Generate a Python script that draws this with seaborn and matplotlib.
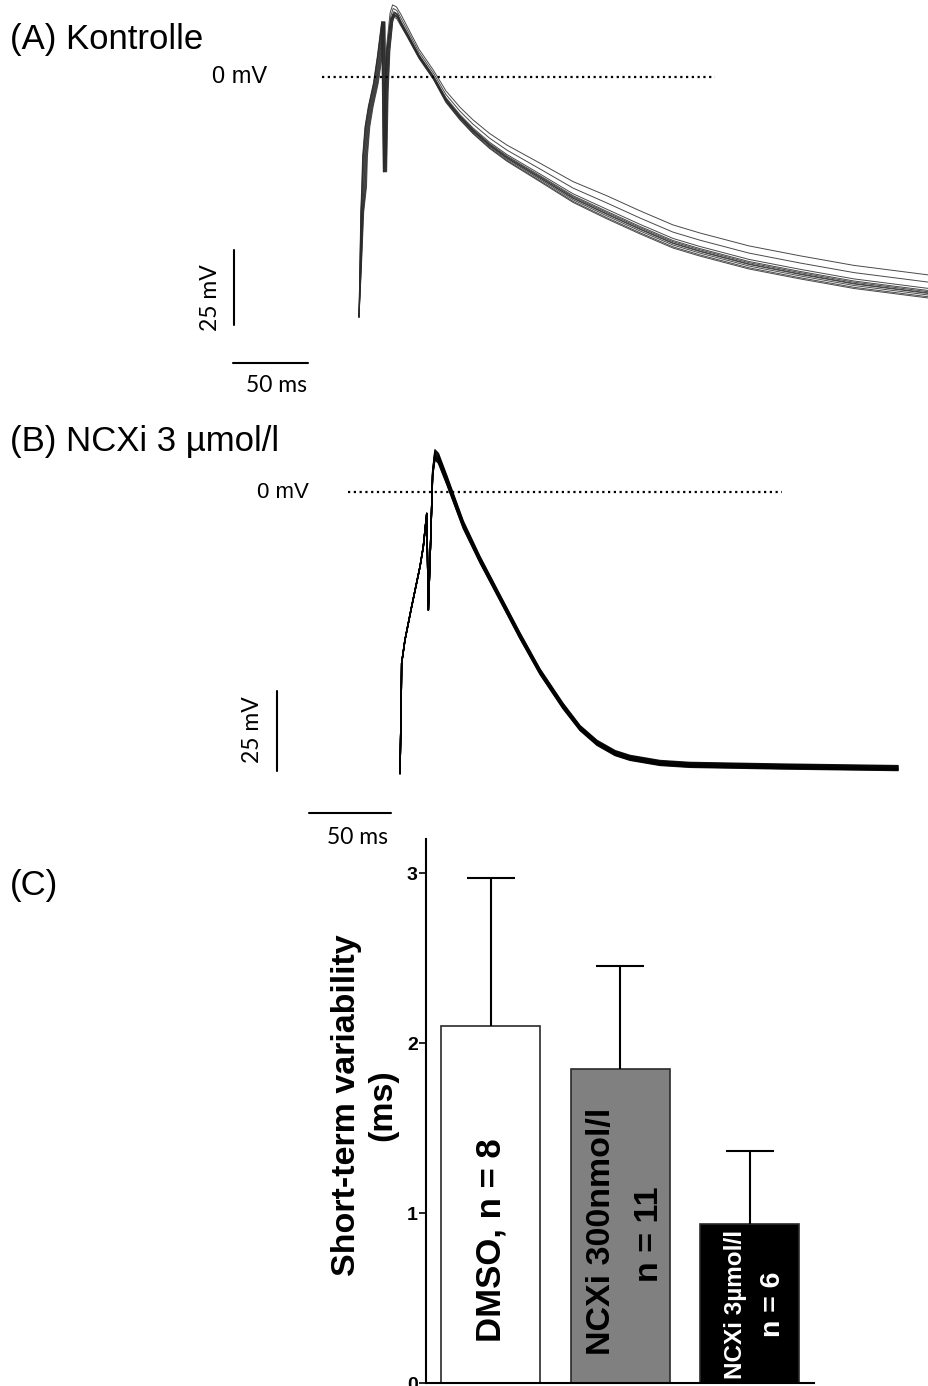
import numpy as np
import pandas as pd
import matplotlib
matplotlib.use("Agg")
import matplotlib.pyplot as plt
import seaborn as sns

W, H = 929, 1386

# ---------------- action potentials, control (ms, mV) ----------------
ctrl_t = [0, 0.5, 1.2, 1.8, 2.4, 4, 6.2, 9.6, 12.2, 15.1, 16.2, 17.2, 18.4, 20.7,
          22.4, 25, 28, 31.8, 40, 49.6, 58, 67.3, 76, 87, 98.7, 120.7, 142.7,
          165.3, 187.3, 209.3, 227.3, 260, 294, 330, 380]
ctrl_v = [-80, -65, -45, -36.6, -26.6, -16.6, -9.9, -2.1, 6.8, 18.4, -31.6, -5, 9, 19,
          21.2, 20.5, 18, 14.6, 7, 0, -7.5, -13.2, -17.7, -22.5, -26.7, -33.3, -40,
          -45.3, -50.3, -55, -57.7, -62, -65.3, -68.5, -71.7]
# share of each beat's voltage / timing offset that applies at every sample
ctrl_vw = [0, 0, 0, 0, 0, 0, 0, 0, 0, 0, 0, 0, 0.2, 0.4,
           0.5, 0.5, 0.5, 0.45, 0.4, 0.4, 0.5, 0.55, 0.6, 0.65, 0.7, 0.8, 0.9,
           1, 1, 1, 1, 1, 1, 1, 1]
ctrl_tw = [0, 0.3, 0.6, 1, 1, 1, 1, 1, 1, 0.7, 0.7, 0.7, 0.7, 0.6,
           0.5, 0.3, 0, 0, 0, 0, 0, 0, 0, 0, 0, 0, 0,
           0, 0, 0, 0, 0, 0, 0, 0]
ctrl_beat_dv = [5.7, 3.3, 1.2, 0.5, 0.1, -0.3, -0.5, -1.0, -1.6, -2.0]
ctrl_beat_dt = [0.0, 0.8, 1.6, 2.4, 3.2, 0.4, 1.2, 2.0, 2.8, 0.2]

# ---------------- action potentials, NCXi 3 umol/l ----------------
ncx_t = [0, 0.6, 1, 3, 7.1, 12.2, 14.2, 16.3, 17.3, 18.7, 19.9, 21.3, 23.4, 28.5,
         38.6, 48.8, 61, 73.2, 85.4, 99.4, 109.8, 120.1, 131.1, 140.2, 158.5,
         176.8, 231.7, 303.7]
ncx_v = [-88, -70, -53.5, -46.3, -35.8, -23.3, -17.1, -6.7, -36.9, -15, 5.8, 11.6,
         10.5, 3.75, -10.3, -21.2, -33.1, -45, -56.2, -66.9, -73.8, -78.4, -81.6,
         -83.1, -84.7, -85.3, -85.8, -86.3]
ncx_vw = [0, 0, 0, 0, 0, 0, 0, 0, 0, 0, 0.5, 1, 1, 0.9,
          0.75, 0.65, 0.6, 0.6, 0.55, 0.55, 0.5, 0.5, 0.5, 0.5, 0.5,
          0.5, 0.5, 0.5]
ncx_tw = [0] * len(ncx_t)
ncx_beat_dv = [1.6, 1.2, 0.8, 0.4, 0.0, -0.3, -0.6, -0.9, -1.2, -1.5]
ncx_beat_dt = [0.0] * 10

# ---------------- short-term variability ----------------
groups = ["DMSO", "NCXi 300nmol/l", "NCXi 3µmol/l"]
stv_mean = [2.10, 1.85, 0.935]
stv_sem = [0.87, 0.605, 0.43]
bar_colors = ["white", "#808080", "black"]
stv_ticks = [0, 1, 2, 3]


def beats(t, v, vw, tw, dv, dt):
    frames = []
    for k, (a, b) in enumerate(zip(dv, dt)):
        frames.append(pd.DataFrame({
            "t": np.asarray(t) + b * np.asarray(tw),
            "v": np.asarray(v) + a * np.asarray(vw),
            "beat": k,
        }))
    return pd.concat(frames, ignore_index=True)


def box(x0, y0, x1, y1):
    return [x0 / W, 1 - y1 / H, (x1 - x0) / W, (y1 - y0) / H]


sns.set_style("white")
plt.rcParams["font.family"] = ["Liberation Sans", "DejaVu Sans"]
plt.rcParams["text.color"] = "black"
plt.rcParams["axes.labelcolor"] = "black"
plt.rcParams["ytick.color"] = "black"
plt.rcParams["xtick.color"] = "black"
CAL = ["Lato", "DejaVu Sans"]

fig = plt.figure(figsize=(W / 100, H / 100), dpi=100)

# ---------------- panel A ----------------
axA = fig.add_axes(box(180, 0, 929, 400))
dfA = beats(ctrl_t, ctrl_v, ctrl_vw, ctrl_tw, ctrl_beat_dv, ctrl_beat_dt)
sns.lineplot(data=dfA, x="t", y="v", units="beat", estimator=None, sort=False,
             color="#2a2a2a", lw=0.7, alpha=0.85, legend=False, ax=axA)
axA.set_xlim(-119.33, 380)
axA.set_ylim(-107.67, 25.67)
axA.axis("off")
axA.plot([-24.7, 237.3], [0, 0], color="black", lw=1.6, ls=(0, (1, 1.6)))
sx, sy = -83.3, -57.7
axA.plot([sx, sx], [sy, sy - 25], color="black", lw=1.5)
hx, hy = -84.0, -95.3
axA.plot([hx, hx + 50], [hy, hy], color="black", lw=1.5)
axA.text(-61.0, 0, "0 mV", ha="right", va="center", fontsize=17)
axA.text(-98.7, -73.7, "25 mV", rotation=90, ha="center", va="center",
         fontsize=16.5, family=CAL)
axA.text(-55.3, -103.0, "50 ms", ha="center", va="center", fontsize=16.5, family=CAL)

# ---------------- panel B ----------------
axB = fig.add_axes(box(180, 430, 929, 860))
dfB = beats(ncx_t, ncx_v, ncx_vw, ncx_tw, ncx_beat_dv, ncx_beat_dt)
sns.lineplot(data=dfB, x="t", y="v", units="beat", estimator=None, sort=False,
             color="black", lw=1.0, alpha=0.9, legend=False, ax=axB)
axB.set_xlim(-134.15, 322.56)
axB.set_ylim(-115, 19.375)
axB.axis("off")
axB.plot([-31.7, 232.9], [0, 0], color="black", lw=1.6, ls=(0, (1, 1.6)))
sx, sy = -75.0, -62.2
axB.plot([sx, sx], [sy, sy - 25], color="black", lw=1.5)
hx, hy = -55.5, -100.3
axB.plot([hx, hx + 50], [hy, hy], color="black", lw=1.5)
axB.text(-55.5, 0, "0 mV", ha="right", va="center", fontsize=16)
axB.text(-90.2, -74.4, "25 mV", rotation=90, ha="center", va="center",
         fontsize=16.5, family=CAL)
axB.text(-26.2, -108.1, "50 ms", ha="center", va="center", fontsize=16.5, family=CAL)

# ---------------- panel C ----------------
axC = fig.add_axes(box(426, 839, 814, 1383))
sns.barplot(x=groups, y=stv_mean, hue=groups, palette=dict(zip(groups, bar_colors)),
            width=0.766, edgecolor="#2a2a2a", linewidth=1.2, legend=False,
            errorbar=None, ax=axC)
pos = np.arange(len(groups))
_, caps, _ = axC.errorbar(pos, stv_mean, yerr=[np.zeros(len(groups)), stv_sem],
                          fmt="none", ecolor="black", elinewidth=1.5,
                          capsize=17.5, capthick=1.5)
for cap in caps:
    if np.allclose(cap.get_ydata(), stv_mean):
        cap.set_visible(False)
axC.set_xlim(-0.50, 2.497)
axC.set_ylim(0, 3.2)
axC.set_xticks([])
axC.set_xlabel("")
axC.set_yticks(stv_ticks, labels=[str(v) for v in stv_ticks],
               fontsize=14, fontweight="bold")
axC.tick_params(axis="y", length=5, width=1.2, pad=1, left=True)
for s in ("top", "right"):
    axC.spines[s].set_visible(False)
for s in ("left", "bottom"):
    axC.spines[s].set_linewidth(1.5)
    axC.spines[s].set_color("black")
axC.set_ylabel("Short-term variability\n(ms)", fontsize=24.5, fontweight="bold",
               linespacing=1.2)
axC.yaxis.set_label_coords(-0.072, 0.511)

axC.text(0, 0.842, "DMSO, n = 8", rotation=90, ha="center", va="center",
         fontsize=25, fontweight="bold", color="black")
axC.text(1 - 0.142, 0.889, "NCXi 300nmol/l", rotation=90, ha="center", va="center",
         fontsize=24.5, fontweight="bold", color="black")
axC.text(1 + 0.23, 0.876, "n = 11", rotation=90, ha="center", va="center",
         fontsize=24.5, fontweight="bold", color="black")
axC.text(2 - 0.108, 0.465, "NCXi 3µmol/l", rotation=90, ha="center", va="center",
         fontsize=17.5, fontweight="bold", color="white",
         family=["Liberation Sans Narrow", "Liberation Sans"])
axC.text(2 + 0.18, 0.465, "n = 6", rotation=90, ha="center", va="center",
         fontsize=20.5, fontweight="bold", color="white")

# ---------------- panel letters ----------------
fig.text(10 / W, 1 - 39 / H, "(A) Kontrolle", fontsize=25, va="center")
fig.text(10 / W, 1 - 442 / H, "(B) NCXi 3 µmol/l", fontsize=25, va="center")
fig.text(10 / W, 1 - 885 / H, "(C)", fontsize=25, va="center")

fig.savefig("out.png", dpi=100)
